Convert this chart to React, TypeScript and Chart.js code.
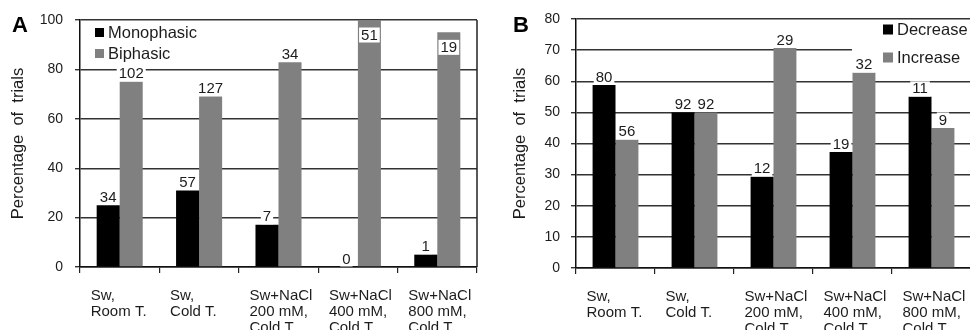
import React, { useEffect, useRef } from 'react';
import { Chart, registerables } from 'chart.js';
Chart.register(...registerables);

const categories = [
  ['Sw,', 'Room T.'],
  ['Sw,', 'Cold T.'],
  ['Sw+NaCl', '200 mM,', 'Cold T.'],
  ['Sw+NaCl', '400 mM,', 'Cold T.'],
  ['Sw+NaCl', '800 mM,', 'Cold T.'],
];

// Panel A
const monophasicPct = [25, 31, 17.1, 0, 5];
const biphasicPct = [75, 69, 82.9, 100, 95];
const monophasicN = [34, 57, 7, 0, 1];
const biphasicN = [102, 127, 34, 51, 19];

// Panel B
const decreasePct = [58.8, 50, 29.3, 37.3, 55];
const increasePct = [41.2, 50, 70.7, 62.7, 45];
const decreaseN = [80, 92, 12, 19, 11];
const increaseN = [56, 92, 29, 32, 9];

const yMaxA = 100;
const yStepA = 20;
const yMaxB = 80;
const yStepB = 10;

const FONT = "'Liberation Sans', Arial, Helvetica, sans-serif";
const TEXT = '#1c1c1c';
const DARK = '#000000';
const GRAY = '#808080';

const decoPlugin = {
  id: 'deco',
  beforeDatasetsDraw(chart: any, _a: any, opts: any) {
    const ctx = chart.ctx;
    const ca = chart.chartArea;
    ctx.save();
    if (opts.legendBox) {
      const b = opts.legendBox;
      ctx.fillStyle = '#ffffff';
      ctx.fillRect(b.x, b.y, b.w, b.h);
    }
    if (opts.rightBorder) {
      ctx.strokeStyle = '#222';
      ctx.lineWidth = 1.5;
      ctx.beginPath();
      ctx.moveTo(ca.right, ca.top);
      ctx.lineTo(ca.right, ca.bottom);
      ctx.stroke();
    }
    ctx.restore();
  },
  afterDatasetsDraw(chart: any, _a: any, opts: any) {
    const ctx = chart.ctx;
    const ca = chart.chartArea;
    ctx.save();
    // value labels
    ctx.font = `15px ${FONT}`;
    ctx.textAlign = 'center';
    ctx.textBaseline = 'middle';
    chart.data.datasets.forEach((ds: any, di: number) => {
      const meta = chart.getDatasetMeta(di);
      meta.data.forEach((bar: any, i: number) => {
        const txt = String(ds.counts[i]);
        const w = ctx.measureText(txt).width + 4;
        let cy = bar.y - 8;
        if (cy - 8 < ca.top) cy = bar.y + 15;
        ctx.fillStyle = '#ffffff';
        ctx.fillRect(bar.x - w / 2, cy - 7.5, w, 15);
        ctx.fillStyle = TEXT;
        ctx.fillText(txt, bar.x, cy + 0.5);
      });
    });
    // legend
    const lg = opts.legend;
    ctx.font = `16.5px ${FONT}`;
    ctx.textAlign = 'left';
    ctx.textBaseline = 'alphabetic';
    chart.data.datasets.forEach((ds: any, di: number) => {
      const base = lg.y + di * lg.gap;
      ctx.fillStyle = ds.backgroundColor;
      ctx.fillRect(lg.x, base - lg.size - 0.5, lg.size, lg.size);
      ctx.fillStyle = TEXT;
      ctx.fillText(ds.label, lg.x + lg.size + 4, base);
    });
    // panel letter
    ctx.font = `bold 22px ${FONT}`;
    ctx.fillStyle = '#000';
    ctx.fillText(opts.letter, opts.letterX, 32);
    ctx.restore();
  },
};

function makeConfig(p: any) {
  return {
    type: 'bar',
    data: {
      labels: categories,
      datasets: [
        {
          label: p.names[0],
          data: p.a,
          counts: p.aN,
          backgroundColor: DARK,
          categoryPercentage: 0.58,
          barPercentage: 1,
        },
        {
          label: p.names[1],
          data: p.b,
          counts: p.bN,
          backgroundColor: GRAY,
          categoryPercentage: 0.58,
          barPercentage: 1,
        },
      ],
    },
    options: {
      responsive: false,
      animation: false,
      layout: { padding: { top: p.top, right: p.right, left: 0, bottom: 0 } },
      plugins: {
        legend: { display: false },
        tooltip: { enabled: false },
        deco: {
          letter: p.letter,
          letterX: p.letterX,
          legend: p.legend,
          legendBox: p.legendBox,
          rightBorder: p.rightBorder,
        },
      },
      scales: {
        x: {
          grid: {
            display: true,
            drawOnChartArea: false,
            drawTicks: true,
            tickLength: 6,
            color: '#222',
            lineWidth: 1.2,
            offset: true,
          },
          border: { display: true, color: '#111', width: 1.5 },
          ticks: {
            autoSkip: false,
            maxRotation: 0,
            minRotation: 0,
            align: 'start',
            labelOffset: -29,
            padding: 15,
            color: TEXT,
            font: { family: FONT, size: 15, lineHeight: 1.07 },
          },
          afterFit: (s: any) => {
            s.height = p.xHeight;
            s.paddingLeft = 0;
            s.paddingRight = 0;
          },
        },
        y: {
          min: 0,
          max: p.max,
          ticks: {
            stepSize: p.step,
            padding: p.tickPad,
            color: TEXT,
            font: { family: FONT, size: 14 },
          },
          grid: {
            color: '#333',
            lineWidth: 1.4,
            tickLength: 5,
          },
          border: { display: true, color: '#111', width: 1.5 },
          title: {
            display: true,
            text: 'Percentage  of  trials',
            color: TEXT,
            font: { family: FONT, size: 16.5 },
            padding: { top: p.titlePad, bottom: 0 },
          },
          afterFit: (s: any) => {
            s.width = p.yWidth;
            s.paddingTop = 0;
            s.paddingBottom = 0;
          },
        },
      },
    },
    plugins: [decoPlugin],
  } as any;
}

function Panel(props: { cfg: any; width: number; left: number }) {
  const ref = useRef<HTMLCanvasElement | null>(null);
  useEffect(() => {
    if (!ref.current) return;
    const chart = new Chart(ref.current, props.cfg);
    return () => chart.destroy();
  }, []);
  return (
    <div style={{ position: 'absolute', left: props.left, top: 0, width: props.width, height: 330 }}>
      <canvas ref={ref} width={props.width} height={330} style={{ display: 'block' }} />
    </div>
  );
}

const cfgA = makeConfig({
  names: ['Monophasic', 'Biphasic'],
  a: monophasicPct,
  b: biphasicPct,
  aN: monophasicN,
  bN: biphasicN,
  max: yMaxA,
  step: yStepA,
  top: 20,
  right: 8,
  xHeight: 63,
  yWidth: 80,
  tickPad: 12,
  titlePad: 9,
  letter: 'A',
  letterX: 12,
  legend: { x: 95, y: 37.5, gap: 21, size: 9 },
  legendBox: null,
  rightBorder: true,
});

const cfgB = makeConfig({
  names: ['Decrease', 'Increase'],
  a: decreasePct,
  b: increasePct,
  aN: decreaseN,
  bN: increaseN,
  max: yMaxB,
  step: yStepB,
  top: 19,
  right: 14,
  xHeight: 62,
  yWidth: 91,
  tickPad: 11,
  titlePad: 26,
  letter: 'B',
  letterX: 28,
  legend: { x: 398, y: 35, gap: 28, size: 10 },
  legendBox: { x: 367, y: 22, w: 140, h: 54 },
  rightBorder: true,
});

export default function App() {
  return (
    <div
      style={{
        position: 'fixed',
        left: 0,
        top: 0,
        width: 970,
        height: 330,
        overflow: 'hidden',
        background: '#fff',
      }}
    >
      <Panel cfg={cfgA} width={485} left={0} />
      <Panel cfg={cfgB} width={500} left={485} />
    </div>
  );
}
